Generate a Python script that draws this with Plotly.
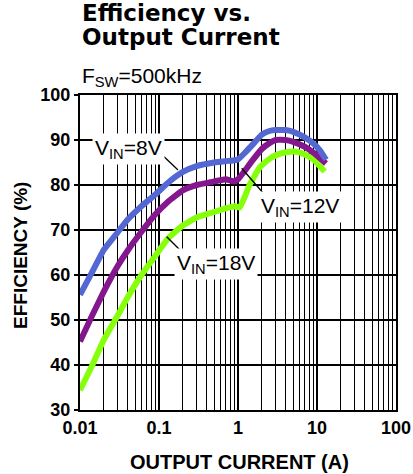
import plotly.graph_objects as go

# ---- data ----
x_8v = [0.01, 0.014, 0.02, 0.03, 0.04, 0.06, 0.09, 0.13, 0.2, 0.3, 0.5, 0.7, 0.9, 1.0,
        1.2, 1.5, 2.0, 2.5, 3.0, 4.0, 5.0, 7.0, 9.0, 11.0, 13.0]
eff_8v = [55.6, 60.4, 65.6, 69.5, 72.3, 75.3, 77.9, 80.5, 82.9, 84.2, 85.0, 85.3, 85.5, 85.7,
          87.0, 88.8, 91.2, 92.0, 92.2, 92.2, 91.8, 90.6, 89.2, 87.6, 85.6]

x_12v = [0.01, 0.014, 0.02, 0.03, 0.04, 0.06, 0.09, 0.13, 0.2, 0.3, 0.5, 0.7, 0.9, 1.0,
         1.2, 1.5, 2.0, 2.5, 3.0, 4.0, 5.0, 7.0, 9.0, 13.0]
eff_12v = [45.2, 50.7, 56.3, 62.0, 65.4, 69.6, 73.5, 76.3, 78.8, 80.0, 80.8, 81.3, 80.8, 81.3,
           83.0, 85.3, 88.0, 89.3, 90.0, 90.0, 89.6, 88.5, 87.2, 84.8]

x_18v = [0.01, 0.014, 0.02, 0.03, 0.04, 0.06, 0.09, 0.13, 0.2, 0.3, 0.5, 0.7, 0.9, 1.05,
         1.4, 1.9, 2.5, 3.2, 4.5, 5.5, 7.0, 9.0, 12.5]
eff_18v = [34.4, 39.6, 45.6, 51.0, 55.0, 60.0, 64.3, 68.1, 71.0, 72.8, 74.0, 74.8, 75.3, 75.0,
           80.0, 84.0, 85.8, 86.8, 87.4, 87.4, 86.8, 85.7, 83.0]

x_major = [0.01, 0.1, 1, 10, 100]
x_major_labels = ["0.01", "0.1", "1", "10", "100"]
x_minor = [m * d for d in (0.01, 0.1, 1, 10) for m in range(2, 10)]
y_ticks = [30, 40, 50, 60, 70, 80, 90, 100]

BLUE = "#5468D4"
PURPLE = "#84168E"
GREEN = "#86FF0A"

fig = go.Figure()
for xs, ys, col, name in [(x_18v, eff_18v, GREEN, "VIN=18V"),
                          (x_12v, eff_12v, PURPLE, "VIN=12V"),
                          (x_8v, eff_8v, BLUE, "VIN=8V")]:
    fig.add_trace(go.Scatter(x=xs, y=ys, mode="lines", name=name,
                             line=dict(color=col, width=6, shape="spline", smoothing=0.4),
                             showlegend=False))

TICK_FONT = dict(family="Liberation Sans, Arial", size=18, color="black", weight="bold")

fig.update_layout(
    width=413, height=474,
    margin=dict(l=80, r=17, t=95, b=64, autoexpand=False),
    paper_bgcolor="white", plot_bgcolor="white",
    font=dict(family="Liberation Sans, Arial", color="black"),
    xaxis=dict(type="log", range=[-2, 2], tickmode="array", tickvals=x_major,
               ticktext=x_major_labels, showgrid=True, gridcolor="black", gridwidth=1.3,
               minor=dict(tickmode="array", tickvals=x_minor, showgrid=True,
                          gridcolor="black", gridwidth=1.3, ticks=""),
               showline=True, linecolor="black", linewidth=2, mirror=True,
               ticks="", tickfont=TICK_FONT, automargin=False, ticklabeloverflow="allow",
               zeroline=False, fixedrange=True),
    yaxis=dict(range=[30, 100], tickmode="array", tickvals=y_ticks,
               showgrid=True, gridcolor="black", gridwidth=1.3,
               showline=True, linecolor="black", linewidth=2, mirror=True,
               ticks="outside", ticklen=4, tickwidth=1.5, tickcolor="black",
               tickfont=TICK_FONT, automargin=False,
               zeroline=False, fixedrange=True),
)

def py(p):  # pixel row -> paper y (plot area spans rows 95..410)
    return (410 - p) / 315.0

def px(p):  # pixel col -> paper x (plot area spans cols 80..396)
    return (p - 80) / 316.0

# axis titles
fig.add_annotation(text="<b>OUTPUT CURRENT (A)</b>", xref="paper", yref="paper",
                   x=px(239), y=py(462), xanchor="center", yanchor="middle", showarrow=False,
                   font=dict(family="Liberation Sans, Arial", size=20, color="black"))
fig.add_annotation(text="<b>EFFICIENCY (%)</b>", xref="paper", yref="paper",
                   x=px(20), y=py(255), xanchor="center", yanchor="middle", showarrow=False,
                   textangle=-90,
                   font=dict(family="Liberation Sans, Arial", size=19, color="black"))

# titles
fig.add_annotation(text="<b>Efficiency vs.</b>", xref="paper", yref="paper",
                   x=px(80), y=py(13), xanchor="left", yanchor="middle", showarrow=False,
                   font=dict(family="DejaVu Sans", size=23, color="black"))
fig.add_annotation(text="<b>Output Current</b>", xref="paper", yref="paper",
                   x=px(80), y=py(37), xanchor="left", yanchor="middle", showarrow=False,
                   font=dict(family="DejaVu Sans", size=23, color="black"))
fig.add_annotation(text="F<sub>SW</sub>=500kHz", xref="paper", yref="paper",
                   x=px(80), y=py(77), xanchor="left", yanchor="middle", showarrow=False,
                   font=dict(family="Liberation Sans, Arial", size=21, color="black"))

# leader lines (labels drawn on top cover their inner ends)
for (x0, y0, x1, y1) in [(157, 150, 178, 170), (241.7, 168.3, 264, 194), (166.7, 236.7, 182, 252)]:
    fig.add_shape(type="line", xref="paper", yref="paper",
                  x0=px(x0), y0=py(y0), x1=px(x1), y1=py(y1),
                  line=dict(color="black", width=1.3), layer="above")

# curve labels
LBL_FONT = dict(family="Liberation Sans, Arial", size=21, color="black")
for txt, cx, cy in [("V<sub>IN</sub>=8V", 128.5, 149),
                    ("V<sub>IN</sub>=12V", 300, 207),
                    ("V<sub>IN</sub>=18V", 215.5, 264)]:
    fig.add_annotation(text=txt, xref="paper", yref="paper", x=px(cx), y=py(cy),
                       xanchor="center", yanchor="middle", showarrow=False,
                       bgcolor="white", borderpad=2, font=LBL_FONT)

# remove the default page margin so the figure sits at the window's top-left corner
fig.write_html("out.html",
               config={"displayModeBar": False, "staticPlot": True},
               post_script="document.body.style.margin='0';document.body.style.overflow='hidden';")
